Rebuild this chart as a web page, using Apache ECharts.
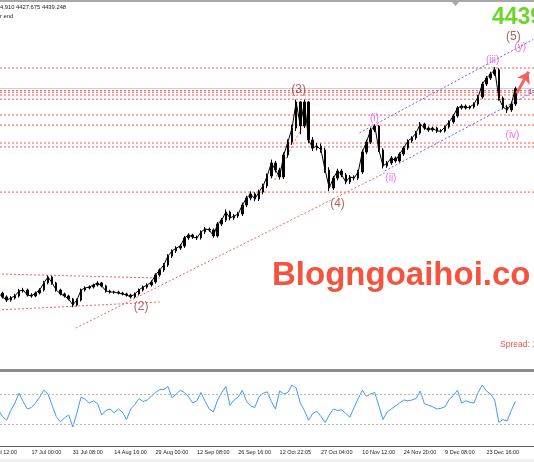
<!DOCTYPE html>
<html>
<head>
<meta charset="utf-8">
<script src="https://cdn.jsdelivr.net/npm/echarts@6/dist/echarts.min.js"></script>
<style>
html, body { margin: 0; padding: 0; background: #fff; }
#chart { width: 534px; height: 462px; }
</style>
</head>
<body>
<div id="chart"></div>
<script>
// tick labels shown every 10 bar slots under the oscillator panel
const tickLabels = ['3 Jul 12:00', '17 Jul 00:00', '31 Jul 08:00', '14 Aug 16:00', '29 Aug 00:00',
  '12 Sep 08:00', '26 Sep 16:00', '12 Oct 22:05', '27 Oct 04:00', '10 Nov 12:00',
  '24 Nov 20:00', '9 Dec 08:00', '23 Dec 16:00'];

// price bars
const opens = [3352,3360,3349,3344,3323,3306,3317,3328,3355,3360,
  3333,3328,3344,3360,3398,3430,3398,3360,3339,3328,
  3312,3280,3306,3360,3371,3376,3387,3398,3382,3355,
  3349,3349,3344,3339,3333,3323,3339,3360,3376,3387,
  3403,3441,3467,3494,3542,3569,3585,3596,3639,3655,
  3644,3639,3671,3687,3682,3650,3714,3735,3778,3746,
  3757,3768,3816,3853,3875,3848,3885,3918,3971,4041,
  4003,3966,4084,4153,4228,4368,4240,4368,4164,4121,
  4132,4111,4003,3907,3960,3998,3977,3939,3966,3960,
  3993,4100,4153,4218,4239,4111,4025,4041,4068,4052,
  4089,4121,4159,4175,4202,4250,4228,4218,4228,4212,
  4212,4234,4261,4293,4336,4346,4336,4341,4357,4395,
  4464,4496,4518,4540,4389,4341,4325,4357];
const closes = [3360,3349,3344,3323,3306,3317,3328,3355,3360,3333,
  3328,3344,3360,3398,3430,3398,3360,3339,3328,3312,
  3280,3306,3360,3371,3376,3387,3398,3382,3355,3349,
  3349,3344,3339,3333,3323,3339,3360,3376,3387,3403,
  3441,3467,3494,3542,3569,3585,3596,3639,3655,3644,
  3639,3671,3687,3682,3650,3714,3735,3778,3746,3757,
  3768,3816,3853,3875,3848,3885,3918,3971,4041,4003,
  3966,4084,4153,4228,4368,4240,4368,4164,4121,4132,
  4111,4003,3907,3960,3998,3977,3939,3966,3960,3993,
  4100,4153,4218,4239,4111,4025,4041,4068,4052,4089,
  4121,4159,4175,4202,4250,4228,4218,4228,4212,4212,
  4234,4261,4293,4336,4346,4336,4341,4357,4395,4464,
  4496,4518,4540,4389,4341,4325,4357,4439];
const highs = [3371,3368,3358,3351,3331,3328,3339,3366,3372,3368,
  3343,3352,3370,3409,3438,3436,3404,3367,3346,3335,
  3318,3314,3368,3380,3385,3394,3407,3404,3388,3362,
  3357,3356,3351,3346,3340,3347,3368,3384,3396,3412,
  3450,3476,3504,3552,3578,3595,3606,3650,3664,3662,
  3652,3680,3698,3695,3690,3724,3746,3792,3786,3768,
  3779,3828,3866,3889,3884,3898,3930,3985,4059,4052,
  4015,4098,4168,4246,4381,4372,4380,4372,4180,4148,
  4145,4122,4018,3972,4010,4008,3988,3976,3975,4004,
  4112,4166,4230,4246,4244,4120,4052,4078,4076,4098,
  4131,4168,4184,4212,4260,4257,4237,4236,4235,4222,
  4242,4270,4302,4346,4356,4354,4350,4366,4405,4476,
  4508,4530,4555,4549,4398,4352,4368,4450];
const lows = [3342,3340,3335,3314,3296,3298,3309,3320,3346,3325,
  3319,3321,3336,3352,3390,3388,3351,3331,3320,3304,
  3268,3272,3298,3352,3363,3368,3379,3374,3346,3341,
  3340,3336,3331,3325,3314,3316,3331,3352,3367,3378,
  3394,3431,3457,3484,3532,3559,3575,3586,3629,3634,
  3628,3630,3661,3672,3640,3641,3703,3724,3734,3736,
  3746,3757,3804,3841,3836,3837,3873,3906,3958,3990,
  3952,3955,4070,4138,4212,4195,4228,4148,4105,4108,
  4096,3988,3890,3896,3948,3965,3927,3928,3948,3950,
  3982,4088,4142,4206,4100,4012,4015,4031,4042,4043,
  4079,4111,4149,4165,4192,4218,4208,4209,4202,4203,
  4204,4225,4252,4284,4327,4327,4328,4332,4348,4385,
  4454,4486,4508,4375,4328,4309,4315,4347];

// oscillator panel
const osc = [52,44,49,40,35,48,58,71,60,50,
  52,58,66,75,70,55,40,33,38,42,
  26,45,66,63,58,61,57,42,48,50,
  45,50,46,36,50,56,64,60,62,67,
  72,76,76,80,65,70,75,72,66,58,
  61,72,60,50,46,62,72,80,55,62,
  66,75,60,54,52,66,71,73,60,50,
  74,70,72,82,78,58,48,35,44,47,
  40,32,42,50,48,49,44,39,52,64,
  75,67,70,72,54,36,46,50,54,58,
  62,61,62,64,74,57,55,53,50,51,
  53,63,68,75,58,61,59,58,72,82,
  74,70,62,32,36,34,48,60];
const oscLevels = [30, 70];

// horizontal levels and last price
const redLevels = [4550, 4429, 4420, 4405, 4383, 4298, 4244, 4148, 4127, 3885];
const lastPrice = 4439.248;

// trend lines as [slot, price] pairs
const redTrends = [
  [[0, 3447], [41, 3424]],
  [[0, 3251], [41, 3296]],
  [[20.7, 3156], [95.4, 3987]],
  [[68.8, 3950], [77.2, 4309]]
];
const blueTrends = [
  [[89.3, 4202], [131.3, 4703]],
  [[95.4, 3998], [131.3, 4421]]
];
const arrowPts = [[127.3, 4414], [130.2, 4530]];

// wave counts [slot, price, text]
const majorWaves = [[36.5, 3272, '(2)'], [74.6, 4435, '(3)'], [84.0, 3821, '(4)'], [126.5, 4716, '(5)']];
const minorWaves = [[92.9, 4282, '(i)'], [96.9, 3958, '(ii)'], [121.5, 4593, '(iii)'], [126.3, 4191, '(iv)'], [128.2, 4663, '(y)']];

const SLOTS = 132;
const categories = [];
for (let i = 0; i < SLOTS; i++) categories.push('s' + i);
const candles = opens.map((o, i) => [o, closes[i], lows[i], highs[i]]);

const FONT = '"Liberation Sans", Arial, sans-serif';
const chart = echarts.init(document.getElementById('chart'));

const trendSeries = (pts, color, dash) => ({
  type: 'line',
  xAxisIndex: 2,
  yAxisIndex: 0,
  data: pts,
  symbol: 'none',
  silent: true,
  lineStyle: { color: color, width: 1, type: dash || [2, 2] },
  z: 1
});

const waveSeries = (list, color, size) => ({
  type: 'scatter',
  xAxisIndex: 2,
  yAxisIndex: 0,
  symbolSize: 1,
  itemStyle: { color: 'rgba(0,0,0,0)' },
  silent: true,
  data: list.map(w => ({
    value: [w[0], w[1]],
    label: { show: true, position: 'inside', formatter: w[2], color: color, fontSize: size, fontFamily: FONT }
  })),
  z: 5
});

const fullWidth = v => [[-0.5, v], [SLOTS - 0.5, v]];

chart.setOption({
  animation: false,
  backgroundColor: '#fff',
  grid: [
    { left: -12, right: 0, top: 0, height: 368, outerBoundsMode: 'none' },
    { left: -12, right: 0, top: 371.5, height: 75, outerBoundsMode: 'none' }
  ],
  xAxis: [
    { type: 'category', gridIndex: 0, data: categories, show: false },
    {
      type: 'category', gridIndex: 1, data: categories,
      axisLine: { lineStyle: { color: '#606060', width: 1 } },
      axisTick: { alignWithLabel: true, interval: i => i % 10 === 0, length: 3, lineStyle: { color: '#606060' } },
      axisLabel: {
        interval: i => i % 10 === 0,
        formatter: (v, i) => tickLabels[i / 10] || '',
        align: 'left', margin: 3, fontSize: 5.5, color: '#222', fontFamily: FONT
      },
      splitLine: { show: false }
    },
    { type: 'value', gridIndex: 0, min: -0.5, max: SLOTS - 0.5, show: false, splitLine: { show: false } }
  ],
  yAxis: [
    { type: 'value', gridIndex: 0, min: 2942, max: 4914.5, show: false, splitLine: { show: false } },
    { type: 'value', gridIndex: 1, min: 0, max: 100, show: false, splitLine: { show: false } }
  ],
  series: [
    trendSeries(fullWidth(lastPrice), '#c8c8c8', 'solid'),
    ...redLevels.map(v => trendSeries(fullWidth(v), '#ff5555')),
    {
      type: 'line',
      xAxisIndex: 0,
      yAxisIndex: 0,
      data: closes,
      symbol: 'none',
      silent: true,
      lineStyle: { color: '#000', width: 1 },
      z: 3
    },
    {
      type: 'candlestick',
      xAxisIndex: 0,
      yAxisIndex: 0,
      data: candles,
      barWidth: 2,
      itemStyle: { color: '#000', color0: '#000', borderColor: '#000', borderColor0: '#000', borderWidth: 1 },
      z: 3
    },
    ...redTrends.map(p => trendSeries(p, '#ff6060')),
    ...blueTrends.map(p => trendSeries(p, '#6666ff')),
    waveSeries(majorWaves, '#a33a3a', 12),
    waveSeries(minorWaves, '#f046f0', 10),
    {
      type: 'line',
      xAxisIndex: 2,
      yAxisIndex: 0,
      data: arrowPts,
      symbol: 'none',
      silent: true,
      lineStyle: { width: 0, opacity: 0 },
      markLine: {
        silent: true,
        symbol: ['none', 'arrow'],
        symbolSize: 11,
        label: { show: false },
        lineStyle: { color: '#f26060', width: 3, type: 'solid', opacity: 1 },
        data: [[{ coord: arrowPts[0] }, { coord: arrowPts[1] }]]
      },
      z: 6
    },
    {
      type: 'line',
      xAxisIndex: 1,
      yAxisIndex: 1,
      data: osc,
      symbol: 'none',
      silent: true,
      lineStyle: { color: '#3d9bff', width: 1 },
      markLine: {
        silent: true,
        symbol: 'none',
        label: { show: false },
        lineStyle: { color: '#b8b8b8', width: 1, type: [2, 2] },
        data: oscLevels.map(v => ({ yAxis: v }))
      }
    }
  ],
  graphic: [
    { type: 'rect', shape: { x: 0, y: 0, width: 534, height: 2 }, style: { fill: '#a8a8a8' }, silent: true },
    { type: 'polygon', shape: { points: [[452, 2], [459, 2], [455.5, 6]] }, style: { fill: '#a8a8a8' }, silent: true },
    { type: 'rect', shape: { x: 0, y: 369, width: 534, height: 3 }, style: { fill: '#8c8c8c' }, silent: true },
    { type: 'rect', shape: { x: 0, y: 459, width: 534, height: 3 }, style: { fill: '#f0f0f0' }, silent: true },
    { type: 'text', x: 0, y: 7, style: { text: '4.910 4427.675 4439.248', font: '5.8px ' + FONT, fill: '#222', verticalAlign: 'middle' }, silent: true },
    { type: 'text', x: 0, y: 16, style: { text: 'r end', font: '5.8px ' + FONT, fill: '#222', verticalAlign: 'middle' }, silent: true },
    { type: 'text', x: 492, y: 18, style: { text: '4439', font: 'bold 23px ' + FONT, fill: '#6ed62a', verticalAlign: 'middle' }, silent: true },
    { type: 'text', x: 272, y: 276, style: { text: 'Blogngoaihoi.co', font: 'bold 33px ' + FONT, fill: '#f5533d', verticalAlign: 'middle' }, silent: true, z: 10 },
    { type: 'text', x: 500, y: 345, style: { text: 'Spread: 1', font: '8.5px ' + FONT, fill: '#ff4d4d', verticalAlign: 'middle' }, silent: true },
    { type: 'text', x: 528, y: 92, style: { text: '1', font: '8px ' + FONT, fill: '#4a63d8', verticalAlign: 'middle' }, silent: true }
  ]
});
</script>
</body>
</html>
